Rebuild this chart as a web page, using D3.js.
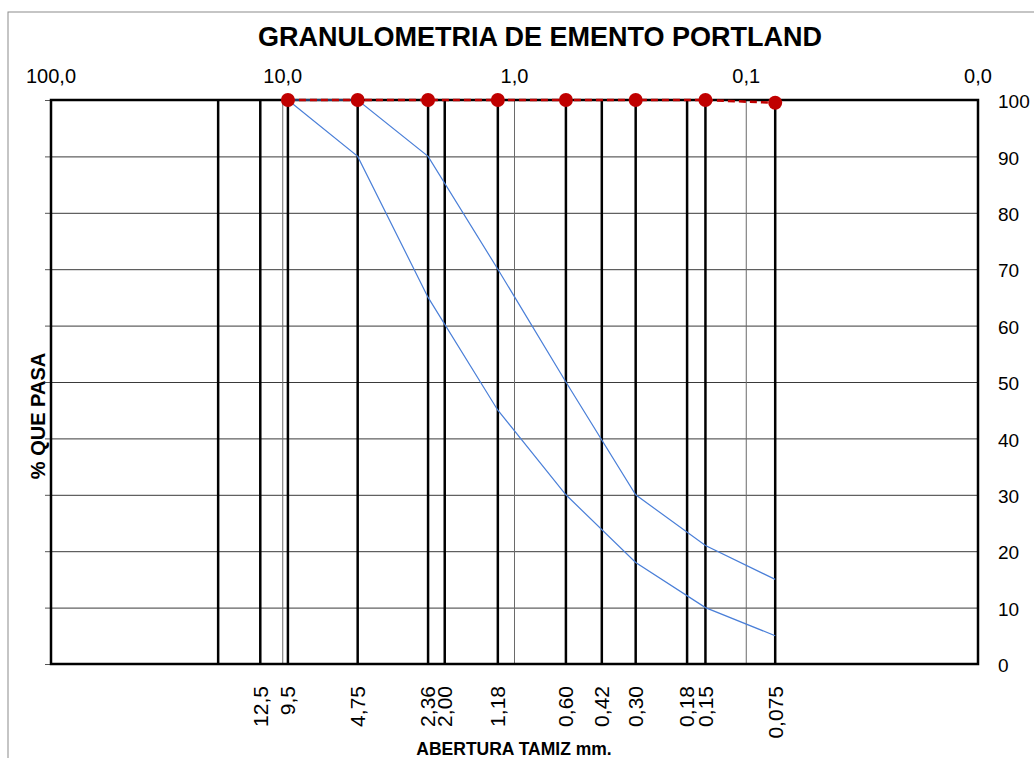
<!DOCTYPE html>
<html>
<head>
<meta charset="utf-8">
<script src="https://cdn.jsdelivr.net/npm/d3@7"></script>
<style>
  body { margin: 0; background: #fff; }
  svg { display: block; font-family: "Liberation Sans", Arial, sans-serif; }
</style>
</head>
<body>
<div id="chart"></div>
<script>

// sieve openings (mm) drawn as vertical lines
const sieveSizes = [19.0, 12.5, 9.5, 4.75, 2.36, 2.00, 1.18, 0.60, 0.42, 0.30, 0.18, 0.15, 0.075];
// labelled sieves
const labelSizes = [12.5, 9.5, 4.75, 2.36, 2.00, 1.18, 0.60, 0.42, 0.30, 0.18, 0.15, 0.075];
const labelText = ["12,5", "9,5", "4,75", "2,36", "2,00", "1,18", "0,60", "0,42", "0,30", "0,18", "0,15", "0,075"];

// decade labels on top
const decadeValues = [100, 10, 1, 0.1, 0.01];
const decadeText = ["100,0", "10,0", "1,0", "0,1", "0,0"];

const yTicks = [0, 10, 20, 30, 40, 50, 60, 70, 80, 90, 100];

// sample series and limit curves
const sampleSizes = [9.5, 4.75, 2.36, 1.18, 0.60, 0.30, 0.15, 0.075];
const samplePass = [100, 100, 100, 100, 100, 100, 100, 99.5];
const upperLimit = [100, 100, 90, 70, 50, 30, 21, 15];
const lowerLimit = [100, 90, 65, 45, 30, 18, 10, 5];

const W = 1034, H = 758;
const margin = { top: 100, right: 56, bottom: 94, left: 51 };
const width = W - margin.left - margin.right;
const height = H - margin.top - margin.bottom;

const svg = d3.select("#chart").append("svg")
    .attr("width", W)
    .attr("height", H);

// outer frame
svg.append("rect")
    .attr("x", 8).attr("y", 12)
    .attr("width", W).attr("height", H)
    .attr("fill", "none")
    .attr("stroke", "#8c8c8c")
    .attr("stroke-width", 1);

// title
svg.append("text")
    .attr("x", 540).attr("y", 46)
    .attr("text-anchor", "middle")
    .attr("font-size", 27)
    .attr("font-weight", "bold")
    .text("GRANULOMETRIA DE EMENTO PORTLAND");

const g = svg.append("g")
    .attr("transform", "translate(" + margin.left + "," + margin.top + ")");

const x = d3.scaleLog()
    .domain([100, 0.01])
    .range([0, width]);

const y = d3.scaleLinear()
    .domain([0, 100])
    .range([height, 0]);

// horizontal grid
g.append("g")
    .attr("class", "grid")
    .call(d3.axisLeft(y).tickValues(yTicks).tickSize(-width).tickFormat(""))
    .call(s => s.select(".domain").remove())
    .call(s => s.selectAll("line").attr("stroke", "#3a3a3a").attr("stroke-width", 1));

// small left tick marks
g.append("g")
    .call(d3.axisLeft(y).tickValues(yTicks).tickSize(6).tickFormat(""))
    .call(s => s.select(".domain").remove())
    .call(s => s.selectAll("line").attr("stroke", "#555"));

// decade grid lines (thin)
g.append("g")
    .selectAll("line")
    .data(decadeValues)
    .enter()
    .append("line")
    .attr("x1", d => x(d)).attr("x2", d => x(d))
    .attr("y1", 0).attr("y2", height)
    .attr("stroke", "#6a6a6a")
    .attr("stroke-width", 1);

// sieve lines (thick)
g.append("g")
    .selectAll("line")
    .data(sieveSizes)
    .enter()
    .append("line")
    .attr("x1", d => x(d)).attr("x2", d => x(d))
    .attr("y1", 0).attr("y2", height)
    .attr("stroke", "#000")
    .attr("stroke-width", 2.5);

// plot frame
g.append("rect")
    .attr("width", width).attr("height", height)
    .attr("fill", "none")
    .attr("stroke", "#000")
    .attr("stroke-width", 2.5);

// top decade labels
g.append("g")
    .selectAll("text")
    .data(decadeValues)
    .enter()
    .append("text")
    .attr("x", d => x(d))
    .attr("y", -17)
    .attr("text-anchor", "middle")
    .attr("font-size", 20)
    .text((d, i) => decadeText[i]);

// right axis labels
g.append("g")
    .attr("transform", "translate(" + width + ",0)")
    .call(d3.axisRight(y).tickValues(yTicks).tickSize(0).tickPadding(20).tickFormat(d3.format("d")))
    .call(s => s.select(".domain").remove())
    .call(s => s.selectAll("text")
        .attr("font-size", 19)
        .attr("font-family", "Liberation Sans, Arial, sans-serif")
        .attr("fill", "#000")
        .attr("dy", "0.4em"));

// bottom sieve labels (rotated)
g.append("g")
    .selectAll("text")
    .data(labelSizes)
    .enter()
    .append("text")
    .attr("transform", d => "translate(" + x(d) + "," + (height + 22) + ") rotate(-90)")
    .attr("text-anchor", "end")
    .attr("dy", "0.35em")
    .attr("font-size", 21)
    .text((d, i) => labelText[i]);

// axis titles
svg.append("text")
    .attr("x", 514).attr("y", 755)
    .attr("text-anchor", "middle")
    .attr("font-size", 17.5)
    .attr("font-weight", "bold")
    .text("ABERTURA TAMIZ mm.");

svg.append("text")
    .attr("transform", "translate(38,416) rotate(-90)")
    .attr("text-anchor", "middle")
    .attr("dy", "0.35em")
    .attr("font-size", 20)
    .attr("font-weight", "bold")
    .text("% QUE PASA");

// limit curves
const line = d3.line()
    .x(d => x(d[0]))
    .y(d => y(d[1]));

[upperLimit, lowerLimit].forEach(lim => {
    g.append("path")
        .datum(sampleSizes.map((s, i) => [s, lim[i]]))
        .attr("d", line)
        .attr("fill", "none")
        .attr("stroke", "#4a7fd8")
        .attr("stroke-width", 1.2);
});

// sample series
const samplePts = sampleSizes.map((s, i) => [s, samplePass[i]]);

g.append("path")
    .datum(samplePts)
    .attr("d", line)
    .attr("fill", "none")
    .attr("stroke", "#c00000")
    .attr("stroke-width", 2.5)
    .attr("stroke-dasharray", "7,4");

g.append("g")
    .selectAll("circle")
    .data(samplePts)
    .enter()
    .append("circle")
    .attr("cx", d => x(d[0]))
    .attr("cy", d => y(d[1]))
    .attr("r", 7)
    .attr("fill", "#c00000");

</script>
</body>
</html>
